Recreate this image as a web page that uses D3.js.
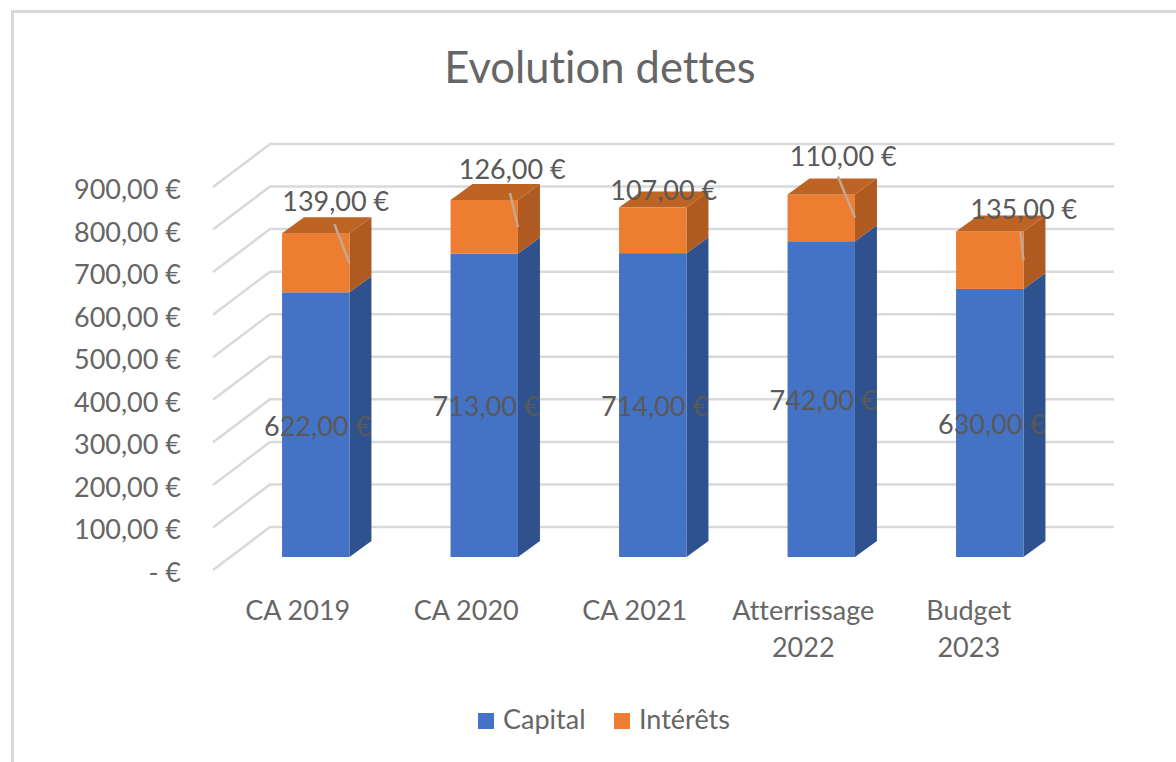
<!DOCTYPE html>
<html lang="fr">
<head>
<meta charset="utf-8">
<title>Evolution dettes</title>
<script src="https://cdn.jsdelivr.net/npm/d3@7"></script>
<style>
    html, body { margin: 0; padding: 0; background: #fff; }
    svg { display: block; }
    text { font-family: Lato, "Open Sans", sans-serif; fill: #595959; font-variant-ligatures: none; }
    .axis-label { fill: #666; }
</style>
</head>
<body>
<script>
    var categories = ["CA 2019", "CA 2020", "CA 2021", "Atterrissage 2022", "Budget 2023"];
    var capital = [622, 713, 714, 742, 630];
    var interets = [139, 126, 107, 110, 135];
    var yTicks = [0, 100, 200, 300, 400, 500, 600, 700, 800, 900];

    // interest labels were dragged by hand in the original, so offsets from the bar top
    var labelDx = [20, 28, 11, 22, 34];
    var labelDy = [-22, -21, -8, -28, -12];
    var leaderStartDx = [-15, -8, null, -17, -3];
    var leaderStartDy = [-9, -7, null, -18, 0];
    var leaderEndDy = [30, 27, null, 23, 29];
    var categoryDx = [-18, -18, -18, -18, -21];

    var width = 1176, height = 762;
    var depthX = 22, depthY = -16;
    var wallX = 57, wallY = -43;

    var svg = d3.select("body").append("svg")
        .attr("width", width)
        .attr("height", height);

    // picture frame
    svg.append("path")
        .attr("d", "M12.5," + height + "V11.5H1176")
        .attr("fill", "none")
        .attr("stroke", "#d9d9d9")
        .attr("stroke-width", 3);

    var x = d3.scaleBand().domain(categories).range([231.5, 1074]).paddingInner(0.6).paddingOuter(0.3);
    var y = d3.scaleLinear().domain([0, 900]).range([557, 174]);

    svg.append("text")
        .attr("class", "axis-label")
        .attr("x", 600).attr("y", 83)
        .attr("text-anchor", "middle")
        .attr("font-size", 43.5)
        .text("Evolution dettes");

    // back wall + side wall gridlines
    var grid = svg.append("g")
        .attr("fill", "none")
        .attr("stroke", "#d9d9d9")
        .attr("stroke-width", 2.5);
    yTicks.forEach(function(t) {
        grid.append("path")
            .attr("d", d3.line()([
                [213, y(t) + 13],
                [213 + wallX, y(t) + 13 + wallY],
                [1114, y(t) + 13 + wallY]
            ]));
    });

    var fmt = function(v) { return v === 0 ? "- €" : d3.format(".2f")(v).replace(".", ",") + " €"; };
    svg.append("g").selectAll("text").data(yTicks).join("text")
        .attr("class", "axis-label")
        .attr("x", 181)
        .attr("y", function(d) { return y(d) + 25; })
        .attr("text-anchor", "end")
        .attr("font-size", 27)
        .text(fmt);

    function drawSegment(g, cat, v0, v1, front, side) {
        var x0 = x(cat), x1 = x0 + x.bandwidth();
        var yb = y(v0), yt = y(v1);
        g.append("path").attr("fill", side)
            .attr("d", d3.line()([[x1, yb], [x1 + depthX, yb + depthY], [x1 + depthX, yt + depthY], [x1, yt]]) + "Z");
        g.append("rect").attr("fill", front)
            .attr("x", x0).attr("y", yt)
            .attr("width", x.bandwidth()).attr("height", yb - yt);
    }

    categories.forEach(function(cat, i) {
        var g = svg.append("g");
        var total = capital[i] + interets[i];
        drawSegment(g, cat, 0, capital[i], "#4472c4", "#2f528f");
        drawSegment(g, cat, capital[i], total, "#ed7d31", "#ae5a21");
        var x0 = x(cat), x1 = x0 + x.bandwidth(), yt = y(total);
        g.append("path").attr("fill", "#bd6324")
            .attr("d", d3.line()([[x0, yt], [x1, yt], [x1 + depthX, yt + depthY], [x0 + depthX, yt + depthY]]) + "Z");

        // capital label
        svg.append("text")
            .attr("x", x0 - 18)
            .attr("y", y(capital[i] / 2) + 11)
            .attr("font-size", 27)
            .text(fmt(capital[i]));

        // leader + interest label
        if (leaderEndDy[i] !== null) {
            svg.append("path")
                .attr("stroke", "#c4a78f")
                .attr("stroke-width", 2.5)
                .attr("fill", "none")
                .attr("d", d3.line()([[x1 + leaderStartDx[i], yt + leaderStartDy[i]], [x1, yt + leaderEndDy[i]]]));
        }
        svg.append("text")
            .attr("x", x0 + x.bandwidth() / 2 + labelDx[i])
            .attr("y", yt + labelDy[i])
            .attr("text-anchor", "middle")
            .attr("font-size", 27)
            .text(fmt(interets[i]));
    });

    // category labels, wrapped on the space for the long ones
    categories.forEach(function(cat, i) {
        var parts = cat.indexOf("CA") === 0 ? [cat] : cat.split(" ");
        var t = svg.append("text")
            .attr("class", "axis-label")
            .attr("text-anchor", "middle")
            .attr("font-size", 27);
        parts.forEach(function(p, j) {
            t.append("tspan")
                .attr("x", x(cat) + x.bandwidth() / 2 + categoryDx[i])
                .attr("y", 620 + j * 37)
                .text(p);
        });
    });

    // legend
    var legendItems = [["Capital", "#4472c4", 478, 503], ["Intérêts", "#ed7d31", 614, 639]];
    legendItems.forEach(function(it) {
        svg.append("rect")
            .attr("x", it[2]).attr("y", 713)
            .attr("width", 16).attr("height", 16)
            .attr("fill", it[1]);
        svg.append("text")
            .attr("class", "axis-label")
            .attr("x", it[3]).attr("y", 729)
            .attr("font-size", 27)
            .text(it[0]);
    });
</script>
</body>
</html>
